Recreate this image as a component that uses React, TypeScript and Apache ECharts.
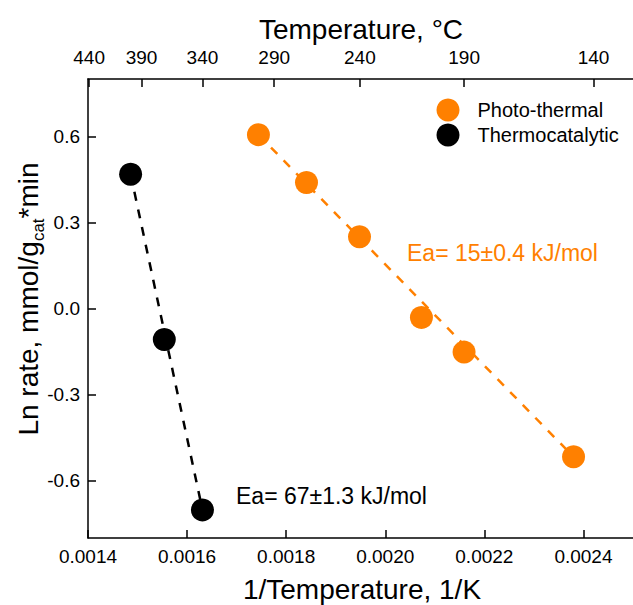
import React, { useEffect, useRef } from "react";
import * as echarts from "echarts";

// ---- data ----
const TEMP_TICKS_C = [440, 390, 340, 290, 240, 190, 140];
const INV_T_TICKS = [0.0014, 0.0016, 0.0018, 0.002, 0.0022, 0.0024];
const LN_RATE_TICKS = [-0.6, -0.3, 0, 0.3, 0.6];

const photoX = [0.001744, 0.001841, 0.001948, 0.002073, 0.002159, 0.00238];
const photoY = [0.606, 0.439, 0.25, -0.031, -0.152, -0.517];
const thermoX = [0.001486, 0.001554, 0.001631];
const thermoY = [0.468, -0.108, -0.702];

const photoFitX = [0.001744, 0.00238];
const photoFitY = [0.606, -0.517];
const thermoFitX = [0.001486, 0.001631];
const thermoFitY = [0.468, -0.702];

const SERIES_NAMES = ["Photo-thermal", "Thermocatalytic"];
const ANNOT_PHOTO = "Ea= 15±0.4 kJ/mol";
const ANNOT_THERMO = "Ea= 67±1.3 kJ/mol";

const ORANGE = "#ff8000";
const FONT = "'Liberation Sans', Arial, sans-serif";

const zip = (xs: number[], ys: number[]) => xs.map((x, i) => [x, ys[i]]);

export default function App() {
  const ref = useRef<HTMLDivElement>(null);
  useEffect(() => {
    if (!ref.current) return;
    const chart = echarts.init(ref.current, undefined, { renderer: "svg" });
    const axisLine = { show: true, onZero: false, lineStyle: { color: "#000", width: 1.5 } };
    const axisTick = { show: true, inside: true, length: 8, lineStyle: { color: "#000", width: 1.5 } };
    const labelStyle = { color: "#000", fontSize: 19, fontFamily: FONT };
    chart.setOption({
      animation: false,
      backgroundColor: "#fff",
      grid: { left: 88, top: 79, right: -3, bottom: 67, containLabel: false },
      xAxis: [
        {
          type: "value",
          position: "bottom",
          min: 0.0014,
          max: 0.0025,
          axisLine,
          axisTick: { ...axisTick, customValues: INV_T_TICKS },
          splitLine: { show: false },
          axisLabel: {
            ...labelStyle,
            margin: 9,
            customValues: INV_T_TICKS,
            formatter: (v: number) => v.toFixed(4),
          },
        },
        {
          type: "value",
          position: "top",
          min: 0.0014,
          max: 0.0025,
          axisLine,
          axisTick: { ...axisTick, customValues: TEMP_TICKS_C.map((t) => 1 / (t + 273.15)) },
          splitLine: { show: false },
          axisLabel: {
            ...labelStyle,
            margin: 12,
            customValues: TEMP_TICKS_C.map((t) => 1 / (t + 273.15)),
            formatter: (v: number) => String(Math.round(1 / v - 273.15)),
          },
        },
      ],
      yAxis: {
        type: "value",
        min: -0.8,
        max: 0.8,
        axisLine,
        axisTick: { ...axisTick, customValues: LN_RATE_TICKS },
        splitLine: { show: false },
        axisLabel: {
          ...labelStyle,
          margin: 8,
          customValues: LN_RATE_TICKS,
          formatter: (v: number) => v.toFixed(1),
        },
      },
      legend: {
        data: SERIES_NAMES,
        orient: "vertical",
        left: 436.5,
        top: 98.5,
        padding: 0,
        itemWidth: 23,
        itemHeight: 23,
        itemGap: 2,
        icon: "circle",
        textStyle: { color: "#000", fontSize: 20, fontFamily: FONT, padding: [0, 0, 0, 13] },
      },
      series: [
        {
          name: "photoFit",
          type: "line",
          data: zip(photoFitX, photoFitY),
          symbol: "none",
          lineStyle: { color: ORANGE, width: 2.5, type: [9, 9] },
          z: 1,
        },
        {
          name: "thermoFit",
          type: "line",
          data: zip(thermoFitX, thermoFitY),
          symbol: "none",
          lineStyle: { color: "#000", width: 2.5, type: [9, 9] },
          z: 1,
        },
        {
          name: SERIES_NAMES[0],
          type: "scatter",
          data: zip(photoX, photoY),
          symbol: "circle",
          symbolSize: 23,
          itemStyle: { color: ORANGE, opacity: 1 },
          z: 3,
        },
        {
          name: SERIES_NAMES[1],
          type: "scatter",
          data: zip(thermoX, thermoY),
          symbol: "circle",
          symbolSize: 23,
          itemStyle: { color: "#000", opacity: 1 },
          z: 3,
        },
      ],
      graphic: [
        {
          type: "text",
          x: 361,
          y: 29,
          style: { text: "Temperature, °C", fill: "#000", fontSize: 28, fontFamily: FONT, align: "center", verticalAlign: "middle" },
        },
        {
          type: "text",
          x: 362,
          y: 589,
          style: { text: "1/Temperature, 1/K", fill: "#000", fontSize: 28, fontFamily: FONT, align: "center", verticalAlign: "middle" },
        },
        {
          type: "text",
          x: 28,
          y: 299,
          rotation: Math.PI / 2,
          style: {
            text: "{m|Ln rate, mmol/g}{s|cat}{m|*min}",
            fill: "#000",
            fontFamily: FONT,
            align: "center",
            verticalAlign: "middle",
            rich: {
              m: { fontSize: 28, lineHeight: 38, fontFamily: FONT, fill: "#000", verticalAlign: "middle" },
              s: { fontSize: 17, lineHeight: 17, fontFamily: FONT, fill: "#000", verticalAlign: "bottom" },
            },
          },
        },
        {
          type: "text",
          x: 407,
          y: 253,
          style: { text: ANNOT_PHOTO, fill: ORANGE, fontSize: 23, fontFamily: FONT, verticalAlign: "middle" },
        },
        {
          type: "text",
          x: 236,
          y: 495.5,
          style: { text: ANNOT_THERMO, fill: "#000", fontSize: 23, fontFamily: FONT, verticalAlign: "middle" },
        },
      ],
    });
    return () => chart.dispose();
  }, []);
  return (
    <div
      ref={ref}
      style={{ position: "absolute", left: 0, top: 0, width: 633, height: 605, overflow: "hidden" }}
    />
  );
}
